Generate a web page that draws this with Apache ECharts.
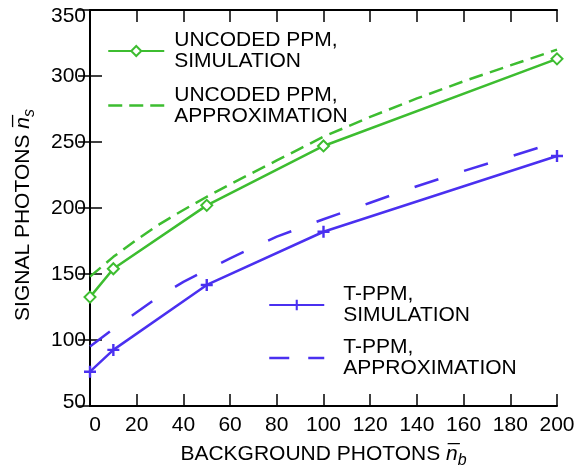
<!DOCTYPE html>
<html>
<head>
<meta charset="utf-8">
<script src="https://cdn.jsdelivr.net/npm/echarts@6/dist/echarts.min.js"></script>
<style>
  html, body { margin: 0; padding: 0; background: #ffffff; }
  #chart { width: 584px; height: 468px; }
</style>
</head>
<body>
<div id="chart"></div>
<script>
// Signal photons needed vs. background photons
const uncodedSimX = [0, 10, 50, 100, 200];
const uncodedSimY = [132.5, 154, 202, 247, 313];

const uncodedApproxX = [0, 10, 20, 30, 40, 50, 60, 70, 80, 90, 100, 120, 140, 160, 180, 200];
const uncodedApproxY = [148, 163, 176, 188, 198.5, 208.5, 218, 227, 236, 245, 254, 269, 283, 296, 308, 320];

const tppmSimX = [0, 10, 50, 100, 200];
const tppmSimY = [76, 92.5, 141.7, 182, 239.4];

const tppmApproxX = [0, 10, 20, 30, 40, 50, 60, 70, 80, 100, 120, 140, 160, 180, 200];
const tppmApproxY = [95, 108.5, 121, 133.5, 144, 153, 161.8, 170.2, 178.3, 191.5, 204, 216.5, 228, 239, 250];

const seriesNames = [
  'UNCODED PPM,\nSIMULATION',
  'UNCODED PPM,\nAPPROXIMATION',
  'T-PPM,\nSIMULATION',
  'T-PPM,\nAPPROXIMATION'
];

const GREEN = '#3dbd30';
const BLUE = '#4a30f0';
const FONT = '"Liberation Sans", Arial, Helvetica, sans-serif';

const pairs = (xs, ys) => xs.map((x, i) => [x, ys[i]]);

const txt = (extra) => Object.assign({ fontSize: 21, color: '#000', fontFamily: FONT }, extra || {});

const nameRich = {
  n: txt({ fontStyle: 'italic' }),
  s: txt({ fontSize: 16, fontStyle: 'italic', padding: [14, 0, 0, 0] })
};

const tickStyle = { show: true, inside: true, length: 12, lineStyle: { color: '#000', width: 1.5 } };
const lineAxis = { lineStyle: { color: '#000', width: 2 } };

const chart = echarts.init(document.getElementById('chart'), null, { renderer: 'canvas' });

chart.setOption({
  animation: false,
  backgroundColor: '#ffffff',
  textStyle: { fontFamily: FONT },
  grid: { left: 90, right: 27, top: 10, bottom: 62, containLabel: false, outerBoundsMode: 'none' },
  xAxis: [
    {
      type: 'value', position: 'bottom', min: 0, max: 200, interval: 20,
      axisLine: lineAxis, axisTick: tickStyle, splitLine: { show: false },
      axisLabel: txt({
        margin: 9,
        // first label sits just inside the frame
        formatter: (v) => (v === 0 ? '{z|0}' : String(v)),
        rich: { z: txt({ padding: [0, 0, 0, 10] }) }
      }),
      name: 'BACKGROUND PHOTONS {n|n\u0305}{s|b}',
      nameLocation: 'middle', nameGap: 33,
      nameTextStyle: txt({ rich: nameRich })
    },
    {
      type: 'value', position: 'top', min: 0, max: 200, interval: 20,
      axisLine: lineAxis, axisTick: tickStyle, splitLine: { show: false },
      axisLabel: { show: false }
    }
  ],
  yAxis: [
    {
      type: 'value', position: 'left', min: 50, max: 350, interval: 50,
      axisLine: lineAxis, axisTick: tickStyle, splitLine: { show: false },
      axisLabel: txt({
        margin: 4,
        // end labels are kept inside the frame height
        formatter: (v) => (v === 350 ? '{t|350}' : v === 50 ? '{b|50}' : String(v)),
        rich: {
          t: txt({ padding: [12, 0, 0, 0] }),
          b: txt({ padding: [0, 0, 7, 0] })
        }
      }),
      name: 'SIGNAL PHOTONS {n|n\u0305}{s|s}',
      nameLocation: 'middle', nameGap: 52, nameRotate: 90,
      nameTextStyle: txt({ rich: nameRich, padding: [0, 14, 0, 0] })
    },
    {
      type: 'value', position: 'right', min: 50, max: 350, interval: 50,
      axisLine: lineAxis, axisTick: tickStyle, splitLine: { show: false },
      axisLabel: { show: false }
    }
  ],
  legend: [
    {
      orient: 'vertical', left: 107, top: 30, padding: 0,
      itemWidth: 56, itemHeight: 12.5, itemGap: 12.5,
      textStyle: txt({ lineHeight: 21, padding: [0, 0, 0, 5] }),
      data: [
        { name: seriesNames[0] },
        {
          name: seriesNames[1],
          itemStyle: { opacity: 0 },
          lineStyle: { type: [14, 7], color: GREEN, width: 2.5 }
        }
      ]
    },
    {
      orient: 'vertical', left: 268, top: 284, padding: 0,
      itemWidth: 55, itemHeight: 13, itemGap: 11,
      textStyle: txt({ lineHeight: 21, padding: [0, 0, 0, 14] }),
      data: [
        { name: seriesNames[2] },
        {
          name: seriesNames[3],
          itemStyle: { opacity: 0 },
          lineStyle: { type: [20, 19], color: BLUE, width: 2.5 }
        }
      ]
    }
  ],
  series: [
    {
      name: seriesNames[0], type: 'line', data: pairs(uncodedSimX, uncodedSimY),
      color: GREEN,
      symbol: 'diamond', symbolSize: 11,
      itemStyle: { color: '#ffffff', borderColor: GREEN, borderWidth: 2 },
      lineStyle: { color: GREEN, width: 2.5 },
      z: 3
    },
    {
      name: seriesNames[1], type: 'line', data: pairs(uncodedApproxX, uncodedApproxY),
      color: GREEN, symbol: 'none',
      lineStyle: { color: GREEN, width: 2.5, type: [14, 7.5] }
    },
    {
      name: seriesNames[2], type: 'line', data: pairs(tppmSimX, tppmSimY),
      color: BLUE,
      symbol: 'path://M4,0H6V4H10V6H6V10H4V6H0V4H4Z', symbolSize: 12,
      itemStyle: { color: BLUE },
      lineStyle: { color: BLUE, width: 2.5 },
      z: 3
    },
    {
      name: seriesNames[3], type: 'line', data: pairs(tppmApproxX, tppmApproxY),
      color: BLUE, symbol: 'none',
      lineStyle: { color: BLUE, width: 2.5, type: [25, 27] }
    }
  ]
});
</script>
</body>
</html>
